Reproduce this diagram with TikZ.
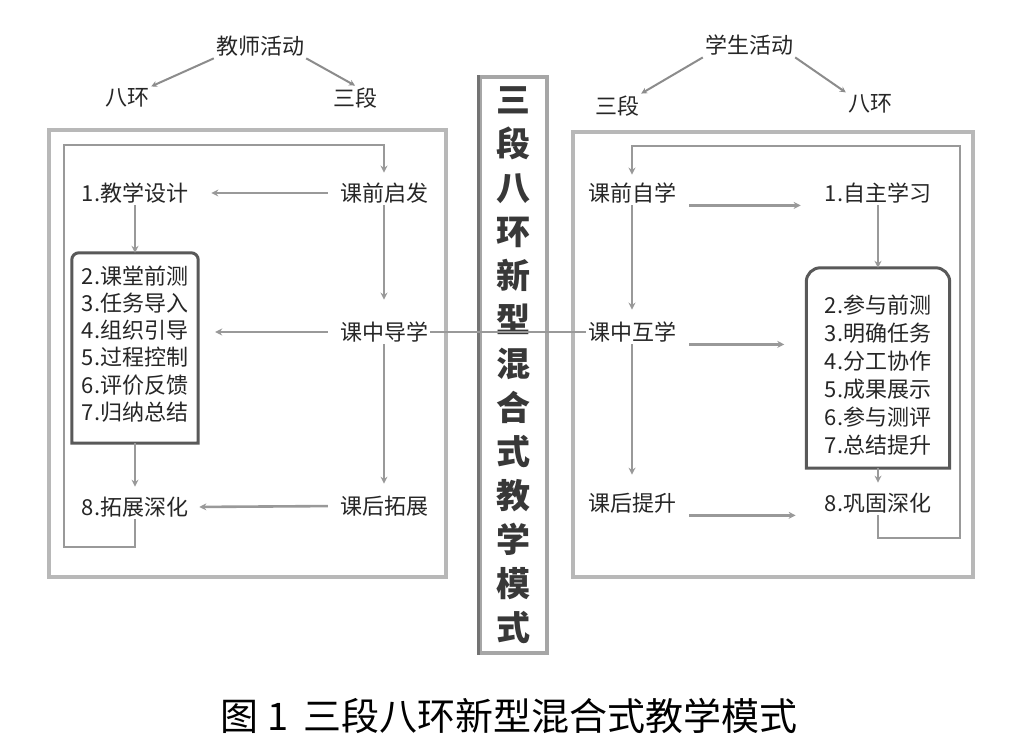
\documentclass[tikz,border=0pt]{standalone}
\usepackage{fontspec}
\newfontfamily\cjk{Noto Sans CJK SC}
\usetikzlibrary{arrows.meta}
\begin{document}
\begin{tikzpicture}[x=1pt,y=-1pt,
  lbl/.style={font=\cjk\fontsize{22}{24}\selectfont, text=black!85, inner sep=2pt},
  items/.style={font=\cjk\fontsize{22}{#1}\selectfont, text=black!85, inner sep=0pt, align=left},
  conn/.style={draw=black!40, line width=2.6pt, -{Stealth[length=7pt,width=7pt]}},
  plain/.style={draw=black!40, line width=2.6pt},
  toparrow/.style={draw=black!45, line width=2pt, -{Stealth[length=6pt,width=6pt]}},
  outer/.style={draw=black!28, line width=3.5pt, minimum width=#1},
  boxline/.style={draw=black!65, line width=3pt},
  hold/.style={inner sep=0pt, minimum width=#1}
]
\useasboundingbox (0,0) rectangle (1017,748);
\fill[white] (0,0) rectangle (1017,748);

% outer frames
\node[outer=397pt, minimum height=447pt] (lf) at (247.5,353.5) {};
\node[outer=400pt, minimum height=445pt] (rf) at (773,354.5) {};

% top labels, left
\node[lbl] (tA) at (260,46) {教师活动};
\node[lbl] (b8) at (127,98) {八环};
\node[lbl] (b3) at (355,98) {三段};
\draw[toparrow] (tA.south west) -- (b8.north east);
\draw[toparrow] (tA.south east) -- (b3.north);

% top labels, right
\node[lbl] (sA) at (749,45) {学生活动};
\node[lbl] (s3) at (617,106) {三段};
\node[lbl] (s8) at (870,104) {八环};
\draw[toparrow] (sA.south west) -- (s3.north east);
\draw[toparrow] (sA.south east) -- (s8.north west);

% left side nodes
\node[lbl] (l1) at (135,193) {1.教学设计};
\node[lbl] (qf) at (384,193) {课前启发};
\node[lbl] (qz) at (384,332) {课中导学};
\node[lbl] (qh) at (384,506) {课后拓展};
\node[lbl] (l8) at (135,507) {8.拓展深化};
\node[hold=126pt, minimum height=190pt] (lbox) at (135,348) {};
\node[items=27.2pt] (litems) at (135,344) {2.课堂前测\\3.任务导入\\4.组织引导\\5.过程控制\\6.评价反馈\\7.归纳总结};
\draw[boxline] (lbox.south west) [rounded corners=7pt] -- (lbox.north west) -- (lbox.north east) [sharp corners] -- (lbox.south east) -- cycle;

% right side nodes
\node[lbl] (zq) at (632,193) {课前自学};
\node[lbl] (z1) at (878,193) {1.自主学习};
\node[lbl] (zz) at (632,332) {课中互学};
\node[lbl] (zh) at (632,503) {课后提升};
\node[lbl] (z8) at (878,503) {8.巩固深化};
\node[hold=143pt, minimum height=200pt] (rbox) at (878,368) {};
\node[items=28pt] (ritems) at (878,375) {2.参与前测\\3.明确任务\\4.分工协作\\5.成果展示\\6.参与测评\\7.总结提升};
\draw[boxline] (rbox.south west) [rounded corners=14pt] -- (rbox.north west) -- (rbox.north east) [sharp corners] -- (rbox.south east) -- cycle;

% center title
\node[draw=black!35, line width=3.5pt, minimum width=67pt, minimum height=576pt,
      font=\cjk\bfseries\fontsize{34}{44}\selectfont, text=black!78, align=center, inner sep=0pt]
      (title) at (513.5,365) {三\\段\\八\\环\\新\\型\\混\\合\\式\\教\\学\\模\\式};
\draw[draw=black!55, line width=3.5pt] (title.north west) -- (title.south west);

% left connectors
\draw[conn, shorten <=10pt, shorten >=21pt] (qf.west) -- (l1.east);
\draw[conn, shorten <=10pt, shorten >=17pt] (qz.west) -- (qz.west -| lbox.east);
\draw[conn, shorten <=10pt, shorten >=9pt] (qh.west) -- (l8.east);
\draw[conn] (l1.south) -- (lbox.north);
\draw[conn, shorten >=8pt] (lbox.south) -- (l8.north);
\draw[conn, shorten >=20pt] (qf.south) -- (qz.north);
\draw[conn, shorten >=10pt] (qz.south) -- (qh.north);
\coordinate (lc1) at (64,547);
\coordinate (lc2) at (64,145);
\draw[conn, shorten >=8pt] (l8.south) |- (lc1) -- (lc2) -| (qf.north);

% right connectors
\draw[conn, shorten <=11pt, shorten >=22pt] (zq.south east) -- (zq.south east -| z1.west);
\draw[conn, shorten <=11pt, shorten >=22pt] (zz.south east) -- (zz.south east -| rbox.west);
\draw[conn, shorten <=11pt, shorten >=27pt] (zh.south east) -- (zh.south east -| z8.west);
\draw[conn] (z1.south) -- (rbox.north);
\draw[conn, shorten >=8pt] (rbox.south) -- (z8.north);
\draw[conn, shorten >=10pt] (zq.south) -- (zz.north);
\draw[conn, shorten >=16pt] (zz.south) -- (zh.north);
\coordinate (rc1) at (960,538);
\coordinate (rc2) at (960,146);
\draw[conn, shorten >=6pt] (z8.south) |- (rc1) -- (rc2) -| (zq.north);

% middle link
\draw[plain] (qz.east) -- (zz.west);

% caption
\node[font=\cjk\fontsize{38}{40}\selectfont, text=black, inner sep=0pt] (cap) at (509,716) {图 1\hspace{0.4em}三段八环新型混合式教学模式};
\end{tikzpicture}
\end{document}
